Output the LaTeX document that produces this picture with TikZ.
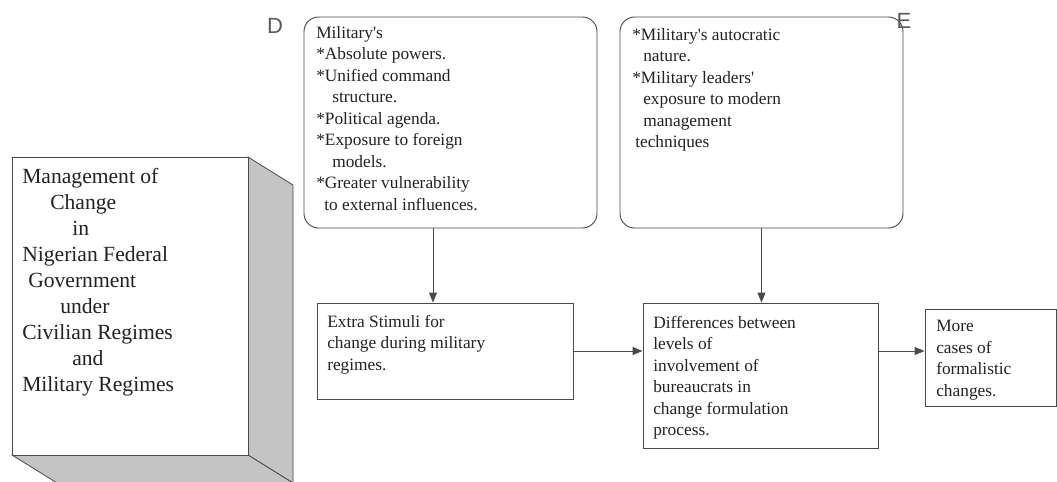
\documentclass[tikz,border=0pt]{standalone}
\usepackage{fontspec}
\setmainfont{Liberation Serif}
\newfontfamily\labelfont{Liberation Sans}
\usetikzlibrary{arrows.meta,calc,fit}
\definecolor{linegray}{HTML}{4A4A4A}
\definecolor{ink}{HTML}{222222}
\definecolor{facegray}{HTML}{C4C4C4}
\definecolor{labelgray}{HTML}{5A5A5A}
\newcommand{\apos}{\textquotesingle}
\begin{document}
\begin{tikzpicture}[x=0.75pt,y=-0.75pt,
  line/.style={draw=linegray, line width=0.7pt},
  box/.style={line, rectangle, inner sep=0pt},
  rbox/.style={box, rounded corners=11pt},
  body/.style={anchor=north west, inner sep=0pt, align=left, text=ink,
    font=\fontsize{13}{16.1}\selectfont},
  bigbody/.style={anchor=north west, inner sep=0pt, align=left, text=ink,
    font=\fontsize{16.2}{19.5}\selectfont},
  tag/.style={inner sep=0pt, text=labelgray, font=\labelfont\fontsize{16.5}{18}\selectfont},
  arr/.style={line, -{Triangle[length=7.5pt,width=6pt]}}
]
\useasboundingbox (0,0) rectangle (1057,482);

% extruded block on the left: side and bottom faces, then the front face
\fill[facegray, draw=linegray, line width=0.6pt] (248,157) -- (293,185) -- (293,483) -- (248,455) -- cycle;
\fill[facegray, draw=linegray, line width=0.6pt] (12,455) -- (248,455) -- (293,483) -- (57,483) -- cycle;
\node[box, fill=white, fit={(12,157) (248,455)}] (mgmt) {};
\node[bigbody] (mgmttext) at (22,168) {Management of\\
\hspace*{21pt}Change\\
\hspace*{37.5pt}in\\
Nigerian Federal\\
\hspace*{4.5pt}Government\\
\hspace*{28.5pt}under\\
Civilian Regimes\\
\hspace*{37.5pt}and\\
Military Regimes};

% upper rounded boxes
\node[rbox, fit={(304,17) (597,228)}] (D) {};
\node[body] (Dtext) at (316,26) {Military\apos s\\
*Absolute powers.\\
*Unified command\\
\hspace*{12pt}structure.\\
*Political agenda.\\
*Exposure to foreign\\
\hspace*{12pt}models.\\
*Greater vulnerability\\
\hspace*{6pt}to external influences.};
\node[tag] (Dlabel) at (275,26) {D};

\node[rbox, fit={(620,17) (903,228)}] (E) {};
\node[body] (Etext) at (632,28) {*Military\apos s autocratic\\
\hspace*{8.25pt}nature.\\
*Military leaders\apos\\
\hspace*{8.25pt}exposure to modern\\
\hspace*{8.25pt}management\\
\hspace*{2.25pt}techniques};
\node[tag] (Elabel) at (904,21) {E};

% lower row
\node[box, fit={(317,303) (573,399)}] (stim) {};
\node[body] (stimtext) at (327,315) {Extra Stimuli for\\
change during military\\
regimes.};

\node[box, fit={(643,303) (878,448)}] (diff) {};
\node[body] (difftext) at (653,316) {Differences between\\
levels of\\
involvement of\\
bureaucrats in\\
change formulation\\
process.};

\node[box, fit={(925,309) (1056,406)}] (more) {};
\node[body] (moretext) at (936,320) {More\\
cases of\\
formalistic\\
changes.};

% connectors
\coordinate (dx) at (433,0);
\coordinate (my) at (0,351);
\draw[arr] (D.south -| dx) -- (stim.north -| dx);
\draw[arr] (E.south) -- (diff.north -| E.south);
\draw[arr] (stim.east) -- (stim.east -| diff.west);
\draw[arr] (diff.east |- my) -- (more.west |- my);
\end{tikzpicture}
\end{document}
